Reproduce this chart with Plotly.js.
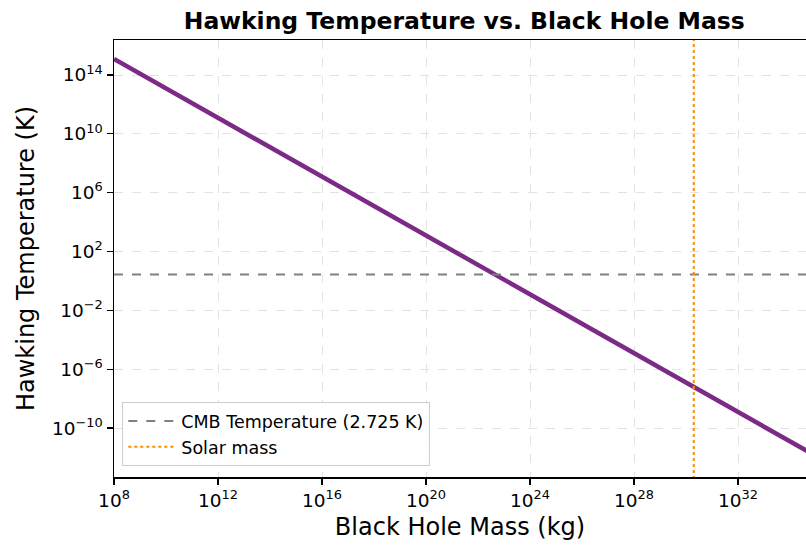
<!DOCTYPE html>
<html>
<head>
<meta charset="utf-8">
<script src="https://cdn.plot.ly/plotly-3.0.1.min.js"></script>
<style>html,body{margin:0;padding:0;background:#fff;}#chart{width:806px;height:548px;}</style>
</head>
<body>
<div id="chart"></div>
<script>
// Black hole masses (kg) and Hawking temperatures (K)
const massKg = [1e8, 1e12, 1e16, 1e20, 1e24, 1e28, 1e32, 1e35];
const tempK = [1.23e15, 1.23e11, 1.23e7, 1.23e3, 1.23e-1, 1.23e-5, 1.23e-9, 1.23e-12];
const cmbTemp = 2.725;
const solarMass = 1.989e30;
const xTickVals = [1e8, 1e12, 1e16, 1e20, 1e24, 1e28, 1e32];
const xTickText = ['10<sup>8</sup>', '10<sup>12</sup>', '10<sup>16</sup>', '10<sup>20</sup>', '10<sup>24</sup>', '10<sup>28</sup>', '10<sup>32</sup>'];
const yTickVals = [1e-10, 1e-6, 1e-2, 1e2, 1e6, 1e10, 1e14];
const yTickText = ['10<sup>\u221210</sup>', '10<sup>\u22126</sup>', '10<sup>\u22122</sup>', '10<sup>2</sup>', '10<sup>6</sup>', '10<sup>10</sup>', '10<sup>14</sup>'];

const traces = [
  {x: massKg, y: tempK, mode: 'lines', line: {color: '#7b2a86', width: 4.5}, showlegend: false, hoverinfo: 'skip'},
  {x: [massKg[0], massKg[massKg.length - 1]], y: [cmbTemp, cmbTemp], mode: 'lines', name: 'CMB Temperature (2.725 K)', line: {color: '#808080', width: 2, dash: 'dash'}},
  {x: [solarMass, solarMass], y: [1e-20, 1e20], mode: 'lines', name: 'Solar mass', line: {color: '#ff8c00', width: 2, dash: 'dot'}}
];

const font = 'DejaVu Sans, sans-serif';
const layout = {
  width: 806, height: 548,
  margin: {l: 114, r: 0, t: 40, b: 71},
  paper_bgcolor: '#fff', plot_bgcolor: '#fff',
  font: {family: font, color: '#000'},
  title: {text: '<b>Hawking Temperature vs. Black Hole Mass</b>', font: {family: font, size: 23.5, color: '#000'}, x: 0.576, xanchor: 'center', y: 0.963, yanchor: 'middle'},
  xaxis: {
    type: 'log', range: [8, 34.615],
    tickvals: xTickVals, ticktext: xTickText,
    tickfont: {size: 18.5}, ticks: 'outside', ticklen: 6, tickwidth: 1.2, tickcolor: '#000',
    showline: true, linecolor: '#000', linewidth: 1.5, mirror: true,
    showgrid: true, gridcolor: '#e3e3e3', griddash: 'dash', gridwidth: 1,
    zeroline: false,
    title: {text: 'Black Hole Mass (kg)', font: {size: 24}, standoff: 8}
  },
  yaxis: {
    type: 'log', range: [-13.33, 16.38],
    tickvals: yTickVals, ticktext: yTickText,
    tickfont: {size: 18.5}, ticks: 'outside', ticklen: 6, tickwidth: 1.2, tickcolor: '#000',
    showline: true, linecolor: '#000', linewidth: 1.5, mirror: false,
    showgrid: true, gridcolor: '#e3e3e3', griddash: 'dash', gridwidth: 1,
    zeroline: false,
    title: {text: 'Hawking Temperature (K)', font: {size: 24}, standoff: 10}
  },
  legend: {
    x: 0.012, y: 0.025, xanchor: 'left', yanchor: 'bottom',
    bgcolor: 'rgba(255,255,255,0.85)', bordercolor: '#cccccc', borderwidth: 1,
    font: {size: 17.5, family: font}, tracegroupgap: 0, itemwidth: 48
  },
  showlegend: true
};

Plotly.newPlot('chart', traces, layout, {displayModeBar: false, staticPlot: true});
</script>
</body>
</html>
